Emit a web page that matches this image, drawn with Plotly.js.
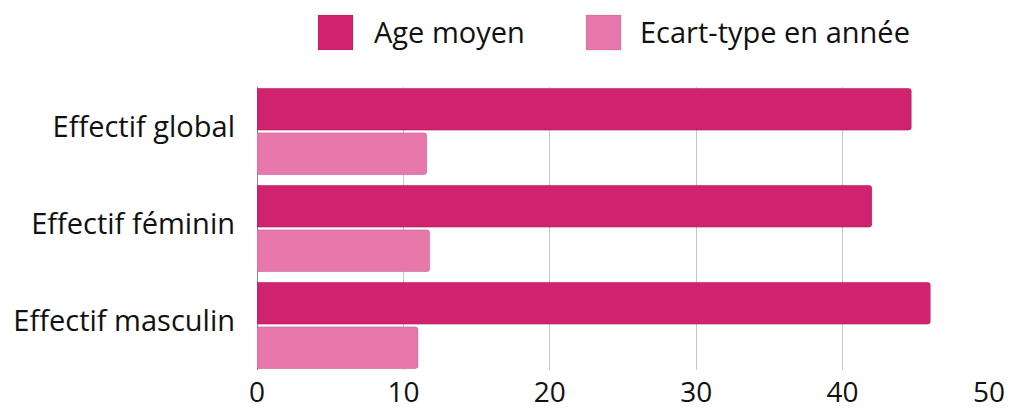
<!DOCTYPE html>
<html>
<head>
<meta charset="utf-8">
<script src="https://cdn.plot.ly/plotly-3.0.1.min.js"></script>
<style>html,body{margin:0;padding:0;background:#fff;}#chart{width:1011px;height:412px;}</style>
</head>
<body>
<div id="chart"></div>
<script>
const categories = ["Effectif global", "Effectif féminin", "Effectif masculin"];
const seriesNames = ["Age moyen", "Ecart-type en année"];
const ageMoyen = [44.7, 42.0, 46.0];
const ecartType = [11.6, 11.8, 11.0];
const xTicks = [0, 10, 20, 30, 40, 50];
const colors = ["#D12270", "#E878AB"];

const font = "'Open Sans', 'Noto Sans', sans-serif";
const bargap = 0.082;

const traces = [ageMoyen, ecartType].map((vals, i) => ({
  type: "bar",
  orientation: "h",
  name: seriesNames[i],
  y: categories,
  x: vals,
  marker: {color: colors[i], cornerradius: 3, line: {color: "rgba(0,0,0,0.12)", width: 1}},
  showlegend: false,
  hoverinfo: "x+name"
}));

// Legend drawn as paper shapes + annotations
const legendX = [[318, 353, 372], [586, 621, 638]];
const W = 1011, H = 412;
const mL = 257, mR = 22, mT = 87, mB = 42;
const pw = W - mL - mR, ph = H - mT - mB;
const px2x = p => (p - mL) / pw;
const py2y = p => (H - mB - p) / ph;

const shapes = [], annotations = [];
seriesNames.forEach((n, i) => {
  const [a, b, t] = legendX[i];
  shapes.push({type: "rect", xref: "paper", yref: "paper",
    x0: px2x(a), x1: px2x(b), y0: py2y(50), y1: py2y(15),
    fillcolor: colors[i], line: {color: "rgba(0,0,0,0.1)", width: 1}});
  annotations.push({xref: "paper", yref: "paper", x: px2x(t), y: py2y(32),
    xanchor: "left", yanchor: "middle", text: n, showarrow: false,
    font: {family: font, size: 29, color: "#111"}});
});

const layout = {
  width: W, height: H,
  margin: {l: mL, r: mR, t: mT, b: mB, pad: 0},
  paper_bgcolor: "#fff", plot_bgcolor: "#fff",
  barmode: "group", bargap: bargap, bargroupgap: 0.06,
  font: {family: font, color: "#111"},
  xaxis: {range: [0, 50], tickvals: xTicks, showgrid: true, gridcolor: "#c8c8c8", gridwidth: 1,
    zeroline: true, zerolinecolor: "#888", zerolinewidth: 1, showline: false, ticks: "",
    ticklabelstandoff: 3,
    tickfont: {family: font, size: 28, color: "#111"}, fixedrange: true},
  yaxis: {range: [categories.length - 0.5 - bargap / 2, -0.5 + bargap / 2],
    showgrid: false, zeroline: false, showline: false, ticks: "",
    ticklabelstandoff: 21, ticklabelshift: 5,
    tickfont: {family: font, size: 29, color: "#111"}, fixedrange: true},
  shapes: shapes, annotations: annotations,
  showlegend: false
};

Plotly.newPlot("chart", traces, layout, {displayModeBar: false, staticPlot: true});
</script>
</body>
</html>
